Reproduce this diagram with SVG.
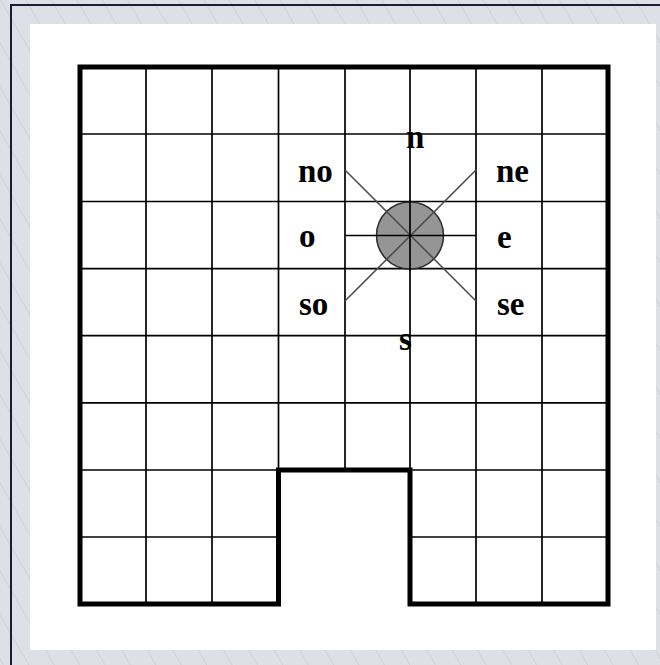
<svg xmlns="http://www.w3.org/2000/svg" width="660" height="665" viewBox="0 0 660 665">
  <defs>
    <pattern id="hatch" patternUnits="userSpaceOnUse" width="22" height="22" patternTransform="rotate(-30)">
      <rect width="22" height="22" fill="#dde0e6"/>
      <line x1="0" y1="0" x2="0" y2="22" stroke="#c6cad2" stroke-width="1.2"/>
    </pattern>
  </defs>
  <style>
    .thin { stroke: #000; stroke-width: 1.7; fill: none; }
    .thick { stroke: #000; stroke-width: 5; fill: none; stroke-linejoin: miter; }
    .diag { stroke: #4a4a4a; stroke-width: 1.5; }
    .lbl { font-family: "Liberation Serif", "Times New Roman", serif; font-weight: bold; font-size: 33px; fill: #000; }
  </style>

  <g id="background">
    <rect x="0" y="0" width="660" height="665" fill="url(#hatch)"/>
    <path d="M11,665 V5 H660" fill="none" stroke="#1c1c38" stroke-width="2"/>
    <rect x="30" y="24" width="626" height="626" fill="#ffffff"/>
  </g>

  <g id="grid">
    <line class="thin" x1="146" y1="67" x2="146" y2="604"/>
    <line class="thin" x1="212" y1="67" x2="212" y2="604"/>
    <line class="thin" x1="278.5" y1="67" x2="278.5" y2="470"/>
    <line class="thin" x1="345" y1="67" x2="345" y2="470"/>
    <line class="thin" x1="410" y1="67" x2="410" y2="470"/>
    <line class="thin" x1="476" y1="67" x2="476" y2="604"/>
    <line class="thin" x1="542" y1="67" x2="542" y2="604"/>
    <line class="thin" x1="80" y1="134" x2="608" y2="134"/>
    <line class="thin" x1="80" y1="201.5" x2="608" y2="201.5"/>
    <line class="thin" x1="80" y1="268.7" x2="608" y2="268.7"/>
    <line class="thin" x1="80" y1="335.7" x2="608" y2="335.7"/>
    <line class="thin" x1="80" y1="402.8" x2="608" y2="402.8"/>
    <line class="thin" x1="80" y1="470" x2="278.5" y2="470"/>
    <line class="thin" x1="410" y1="470" x2="608" y2="470"/>
    <line class="thin" x1="80" y1="537" x2="278.5" y2="537"/>
    <line class="thin" x1="410" y1="537" x2="608" y2="537"/>
    <path class="thick" d="M80,67 H608 V604 H410 V470 H278.5 V604 H80 Z"/>
  </g>

  <g id="robot">
    <circle cx="410" cy="235.5" r="33.5" fill="#959595" stroke="#2a2a2a" stroke-width="1.5"/>
  </g>

  <g id="connectors">
    <line class="diag" x1="345" y1="170" x2="476" y2="301"/>
    <line class="diag" x1="476" y1="170" x2="345" y2="301"/>
    <line class="thin" x1="345" y1="235.5" x2="476" y2="235.5"/>
    <line class="thin" x1="410" y1="200" x2="410" y2="271"/>
  </g>

  <g id="labels">
    <text class="lbl" x="406" y="148">n</text>
    <text class="lbl" x="298" y="181.5">no</text>
    <text class="lbl" x="496" y="181.5">ne</text>
    <text class="lbl" x="299" y="247">o</text>
    <text class="lbl" x="497" y="247.5">e</text>
    <text class="lbl" x="299" y="315">so</text>
    <text class="lbl" x="497" y="315">se</text>
    <text class="lbl" x="399" y="350">s</text>
  </g>
</svg>
